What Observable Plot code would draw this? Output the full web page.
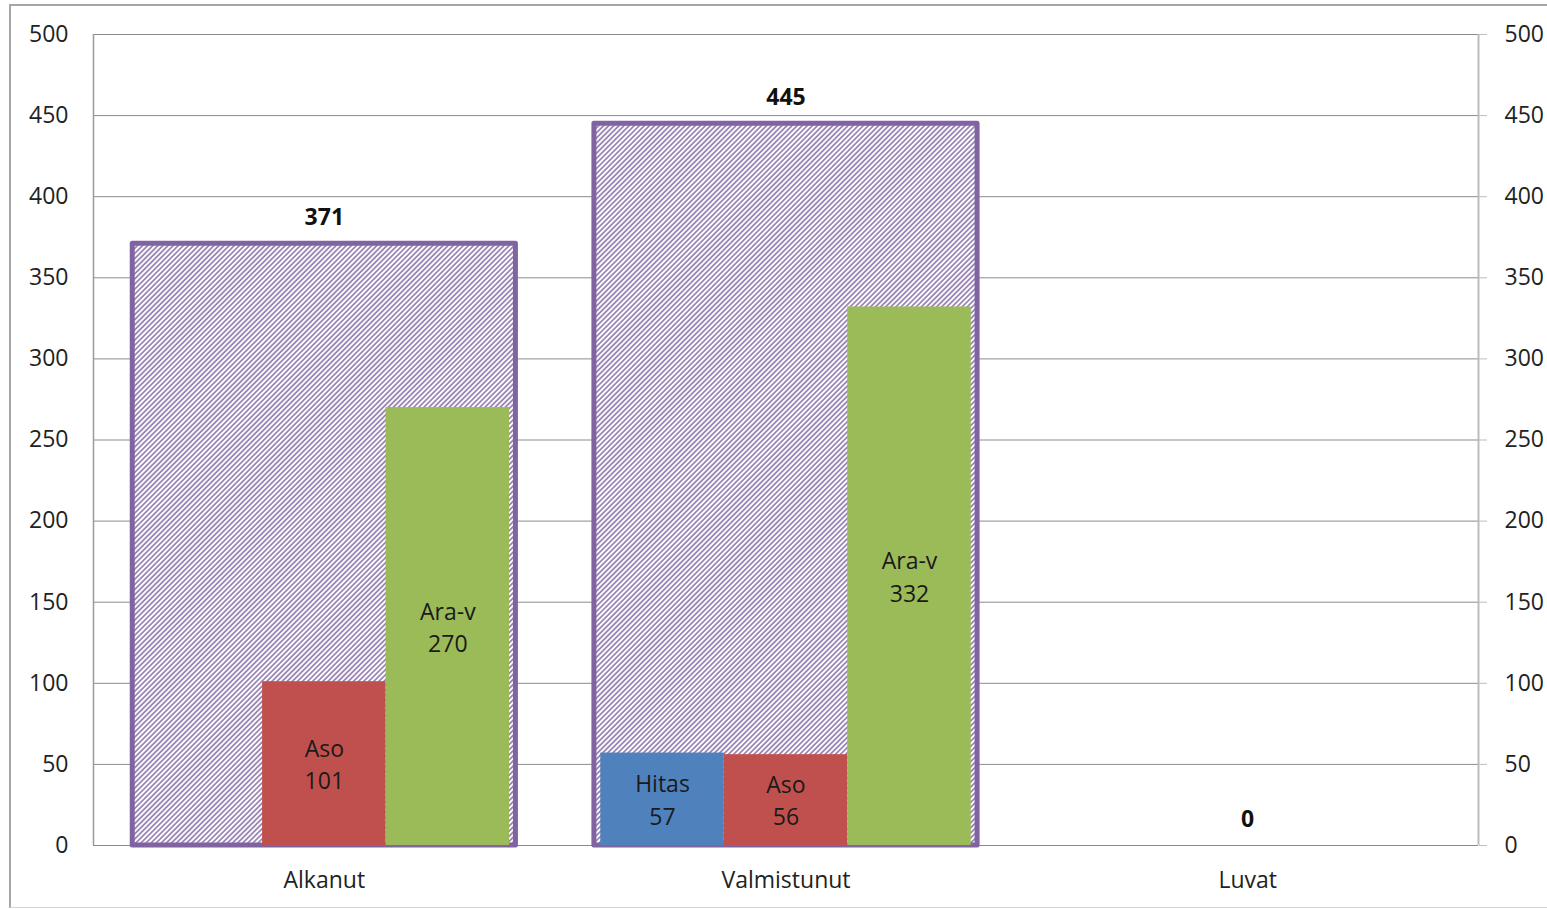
<!DOCTYPE html>
<html><head><meta charset="utf-8">
<script src="https://cdn.jsdelivr.net/npm/d3@7"></script>
<script src="https://cdn.jsdelivr.net/npm/@observablehq/plot@0.6"></script>
<style>
body{margin:0;background:#fff;font-family:"Open Sans",sans-serif}
#wrap{position:relative;width:1547px;height:909px;overflow:hidden}
#wrap svg{position:absolute;left:0;top:0}
#frame{position:absolute;left:9px;top:4px;width:1600px;height:901px;border-left:2px solid #a6a6a6;border-top:2px solid #a6a6a6;border-bottom:1px solid #d6d6d6;pointer-events:none}
</style></head><body><div id="wrap"><div id="frame"></div></div>
<script>
const categories = ["Alkanut", "Valmistunut", "Luvat"];
const totals = [371, 445, 0];
const seriesNames = ["Hitas", "Aso", "Ara-v"];
const hitas = [null, 57, null];
const aso = [101, 56, null];
const araV = [270, 332, null];
const seriesColors = ["#4F81BD", "#C0504D", "#9BBB59"];
const yTicks = [0, 50, 100, 150, 200, 250, 300, 350, 400, 450, 500];

const slotW = 0.2675;   // width of one sub-bar slot, in category units
const boxHalf = 0.415;  // half width of the total box

const seriesValues = [hitas, aso, araV];
const sub = [];
seriesValues.forEach((vals, j) => vals.forEach((v, i) => {
  if (v != null) sub.push({i, j, name: seriesNames[j], value: v});
}));
const boxes = totals.map((t, i) => ({i, total: t}));

const plot = Plot.plot({
  width: 1547, height: 909,
  marginLeft: 93, marginRight: 69, marginTop: 34, marginBottom: 64,
  style: {fontFamily: "Open Sans, sans-serif", fontSize: "23px", color: "#222", background: "transparent"},
  x: {domain: [-0.5, 2.5], label: null},
  y: {domain: [0, 500], label: null},
  color: {domain: seriesNames, range: seriesColors},
  marks: [
    Plot.ruleY(yTicks, {stroke: "#8c8c8c", strokeWidth: 1}),
    Plot.ruleX([-0.5], {stroke: "#9a9a9a", strokeWidth: 1.5}),
    Plot.ruleX([2.5], {stroke: "#bdbdbd", strokeWidth: 2}),
    Plot.rectY(boxes.filter(d => d.total > 0), {
      x1: d => d.i - boxHalf, x2: d => d.i + boxHalf, y1: 0, y2: "total",
      fill: "url(#hatch)", stroke: "#8064A2", strokeWidth: 5, strokeLinejoin: "round"
    }),
    Plot.rectY(sub, {
      x1: d => d.i + (d.j - 1.5) * slotW, x2: d => d.i + (d.j - 0.5) * slotW,
      y1: 0, y2: "value", fill: "name"
    }),
    Plot.text(sub, {
      x: d => d.i + (d.j - 1) * slotW, y: d => d.value / 2,
      text: d => d.name + "\n" + d.value, fontSize: 23, lineHeight: 1.4, fill: "#1a1a1a", dy: -1
    }),
    Plot.text(boxes, {
      x: "i", y: "total", text: d => String(d.total), dy: -26,
      fontSize: 23, fontWeight: "bold", fill: "#111"
    }),
    Plot.axisY(yTicks, {anchor: "left", tickSize: 0, tickPadding: 25, fontSize: 23, fill: "#222", label: null}),
    Plot.axisY(yTicks, {anchor: "right", tickSize: 8, tickPadding: 18, stroke: "#bdbdbd", fontSize: 23, fill: "#222", label: null}),
    Plot.axisX([0, 1, 2], {anchor: "bottom", tickSize: 0, tickPadding: 26, tickFormat: i => categories[i], fontSize: 23, fill: "#222", label: null})
  ]
});

const svg = d3.select(plot);
const defs = svg.insert("defs", ":first-child");
const pat = defs.append("pattern")
  .attr("id", "hatch").attr("patternUnits", "userSpaceOnUse")
  .attr("width", 3.6).attr("height", 3.6)
  .attr("patternTransform", "rotate(45)");
pat.append("rect").attr("width", 3.6).attr("height", 3.6).attr("fill", "#ffffff");
pat.append("line").attr("x1", 0.9).attr("y1", 0).attr("x2", 0.9).attr("y2", 3.6)
  .attr("stroke", "#8064A2").attr("stroke-width", 1.4);

document.getElementById("wrap").appendChild(plot);
</script>
</body></html>
